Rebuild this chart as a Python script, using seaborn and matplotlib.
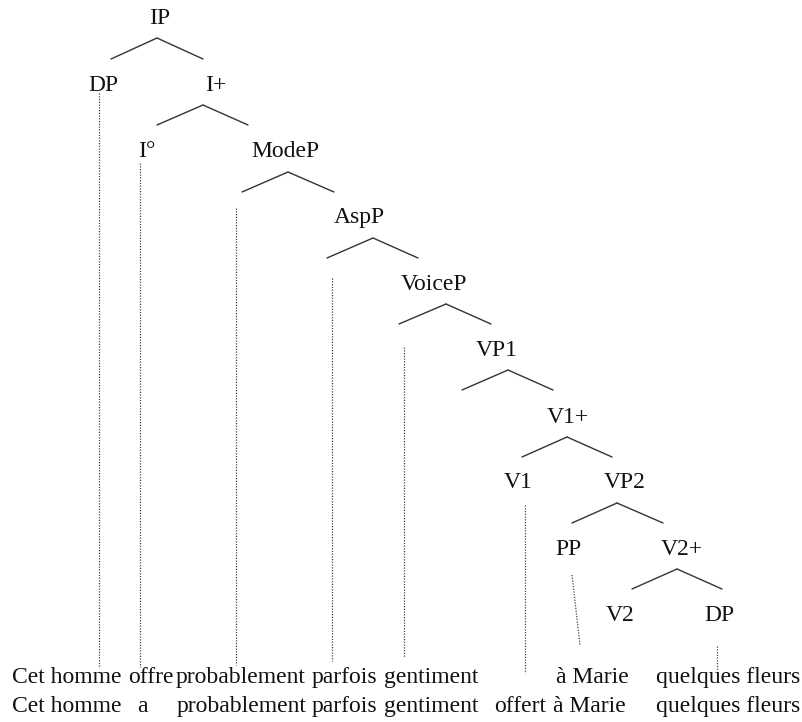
import matplotlib
matplotlib.use("Agg")
import matplotlib.pyplot as plt
import pandas as pd
import seaborn as sns

# Noeuds de l'arbre : étiquette, centre x, ligne de base y (pixels)
node_labels = ['IP', 'DP', 'I+', 'I°', 'ModeP', 'AspP', 'VoiceP', 'VP1',
               'V1+', 'V1', 'VP2', 'PP', 'V2+', 'V2', 'DP']
node_x = [160, 103, 216, 147, 285, 359, 434, 497, 568, 518, 625, 568, 682, 620, 719]
node_y = [24, 91, 91, 157, 157, 223, 290, 356, 423, 488, 488, 555, 555, 621, 621]

# Branches : sommet et deux extrémités
branch_top_x = [157, 203, 288, 373, 446, 508, 567, 617, 677]
branch_top_y = [38, 105, 172, 238, 304, 370, 437, 503, 569]
branch_left_x = [111, 157, 242, 327, 399, 462, 522, 572, 632]
branch_right_x = [203, 248, 334, 418, 491, 553, 612, 663, 722]
branch_bottom_y = [59, 125, 192, 258, 324, 390, 457, 523, 589]

# Traits pointillés vers les mots
dot_x0 = [99, 140, 236, 332, 404, 525, 572, 717]
dot_y0 = [93, 163, 208, 278, 347, 505, 575, 646]
dot_x1 = [99, 140, 236, 332, 404, 525, 580, 717]
dot_y1 = [668, 667, 665, 661, 657, 673, 645, 670]

# Les deux phrases
row1_words = ['Cet homme', 'offre', 'probablement', 'parfois', 'gentiment',
              'à Marie', 'quelques fleurs']
row1_x = [67, 151, 241, 344, 431, 592, 728]
row2_words = ['Cet homme', 'a', 'probablement', 'parfois', 'gentiment',
              'offert', 'à Marie', 'quelques fleurs']
row2_x = [67, 142, 242, 344, 431, 520, 589, 728]
row_y = [683, 712]

sns.set_theme(style="white")
plt.rcParams['font.family'] = ['Liberation Serif', 'DejaVu Serif']

fig = plt.figure(figsize=(8.03, 7.22), dpi=100)
ax = fig.add_axes([0, 0, 1, 1])

# segments des branches
rows = []
for i in range(len(branch_top_x)):
    rows.append({'seg': 2 * i, 'x': branch_left_x[i], 'y': branch_bottom_y[i]})
    rows.append({'seg': 2 * i, 'x': branch_top_x[i], 'y': branch_top_y[i]})
    rows.append({'seg': 2 * i + 1, 'x': branch_top_x[i], 'y': branch_top_y[i]})
    rows.append({'seg': 2 * i + 1, 'x': branch_right_x[i], 'y': branch_bottom_y[i]})
branches = pd.DataFrame(rows)
sns.lineplot(data=branches, x='x', y='y', units='seg', estimator=None, sort=False,
             color='#333333', linewidth=1.0, ax=ax)

rows = []
for i in range(len(dot_x0)):
    rows.append({'seg': i, 'x': dot_x0[i], 'y': dot_y0[i]})
    rows.append({'seg': i, 'x': dot_x1[i], 'y': dot_y1[i]})
dots = pd.DataFrame(rows)
sns.lineplot(data=dots, x='x', y='y', units='seg', estimator=None, sort=False,
             color='#444444', linewidth=0.9, linestyle=(0, (1, 1.2)), ax=ax)

for lab, x, y in zip(node_labels, node_x, node_y):
    ax.text(x, y, lab, ha='center', va='baseline', fontsize=17, color='#111111')

for words, xs, y in [(row1_words, row1_x, row_y[0]), (row2_words, row2_x, row_y[1])]:
    for w, x in zip(words, xs):
        ax.text(x, y, w, ha='center', va='baseline', fontsize=17, color='#111111')

ax.set_xlim(0, 803)
ax.set_ylim(722, 0)
ax.set_axis_off()

fig.savefig('out.png', dpi=100, facecolor='white')
